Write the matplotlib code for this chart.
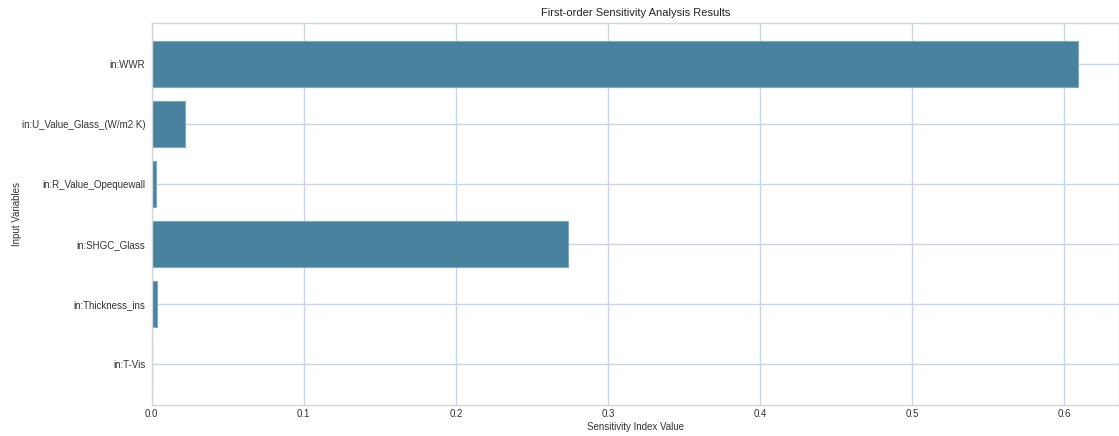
import matplotlib
matplotlib.use('Agg')
import matplotlib.pyplot as plt

# valores
variables = ['in:WWR', 'in:U_Value_Glass_(W/m2 K)', 'in:R_Value_Opequewall',
             'in:SHGC_Glass', 'in:Thickness_ins', 'in:T-Vis']
sensitivity = [0.609, 0.022, 0.0028, 0.2736, 0.0037, 0.0]

plt.rcParams['font.family'] = ['Liberation Sans', 'DejaVu Sans']

fig = plt.figure(figsize=(11.19, 4.36), dpi=100)
ax = fig.add_axes([0.1355, 0.071, 0.8645, 0.876])

pos = list(range(len(variables)))
ax.barh(pos, sensitivity, height=0.78, color='#48829e', edgecolor='#7fa8c0', linewidth=0.8, zorder=2)

ax.set_yticks(pos)
ax.set_yticklabels(variables)
ax.set_ylim(5.683, -0.683)
ax.set_xlim(0, 0.636)
ax.set_xticks([0.0, 0.1, 0.2, 0.3, 0.4, 0.5, 0.6])

ax.grid(True, color='#c6d6ea', linewidth=1, zorder=0)
ax.set_axisbelow(True)
for s in ax.spines.values():
    s.set_color('#d6d6d6')
    s.set_linewidth(1)
ax.tick_params(axis='y', length=0, labelsize=7, colors='#333333', pad=4.5)
ax.tick_params(axis='x', length=0, labelsize=7, colors='#333333', pad=3)

ax.set_xlabel('Sensitivity Index Value', fontsize=7, color='#333333', labelpad=2)
ax.set_ylabel('Input Variables', fontsize=7, color='#333333')
ax.yaxis.set_label_coords(-0.134, 0.5)
ax.set_title('First-order Sensitivity Analysis Results', fontsize=8, color='#222222', pad=5)

fig.savefig('out.png', dpi=100)
